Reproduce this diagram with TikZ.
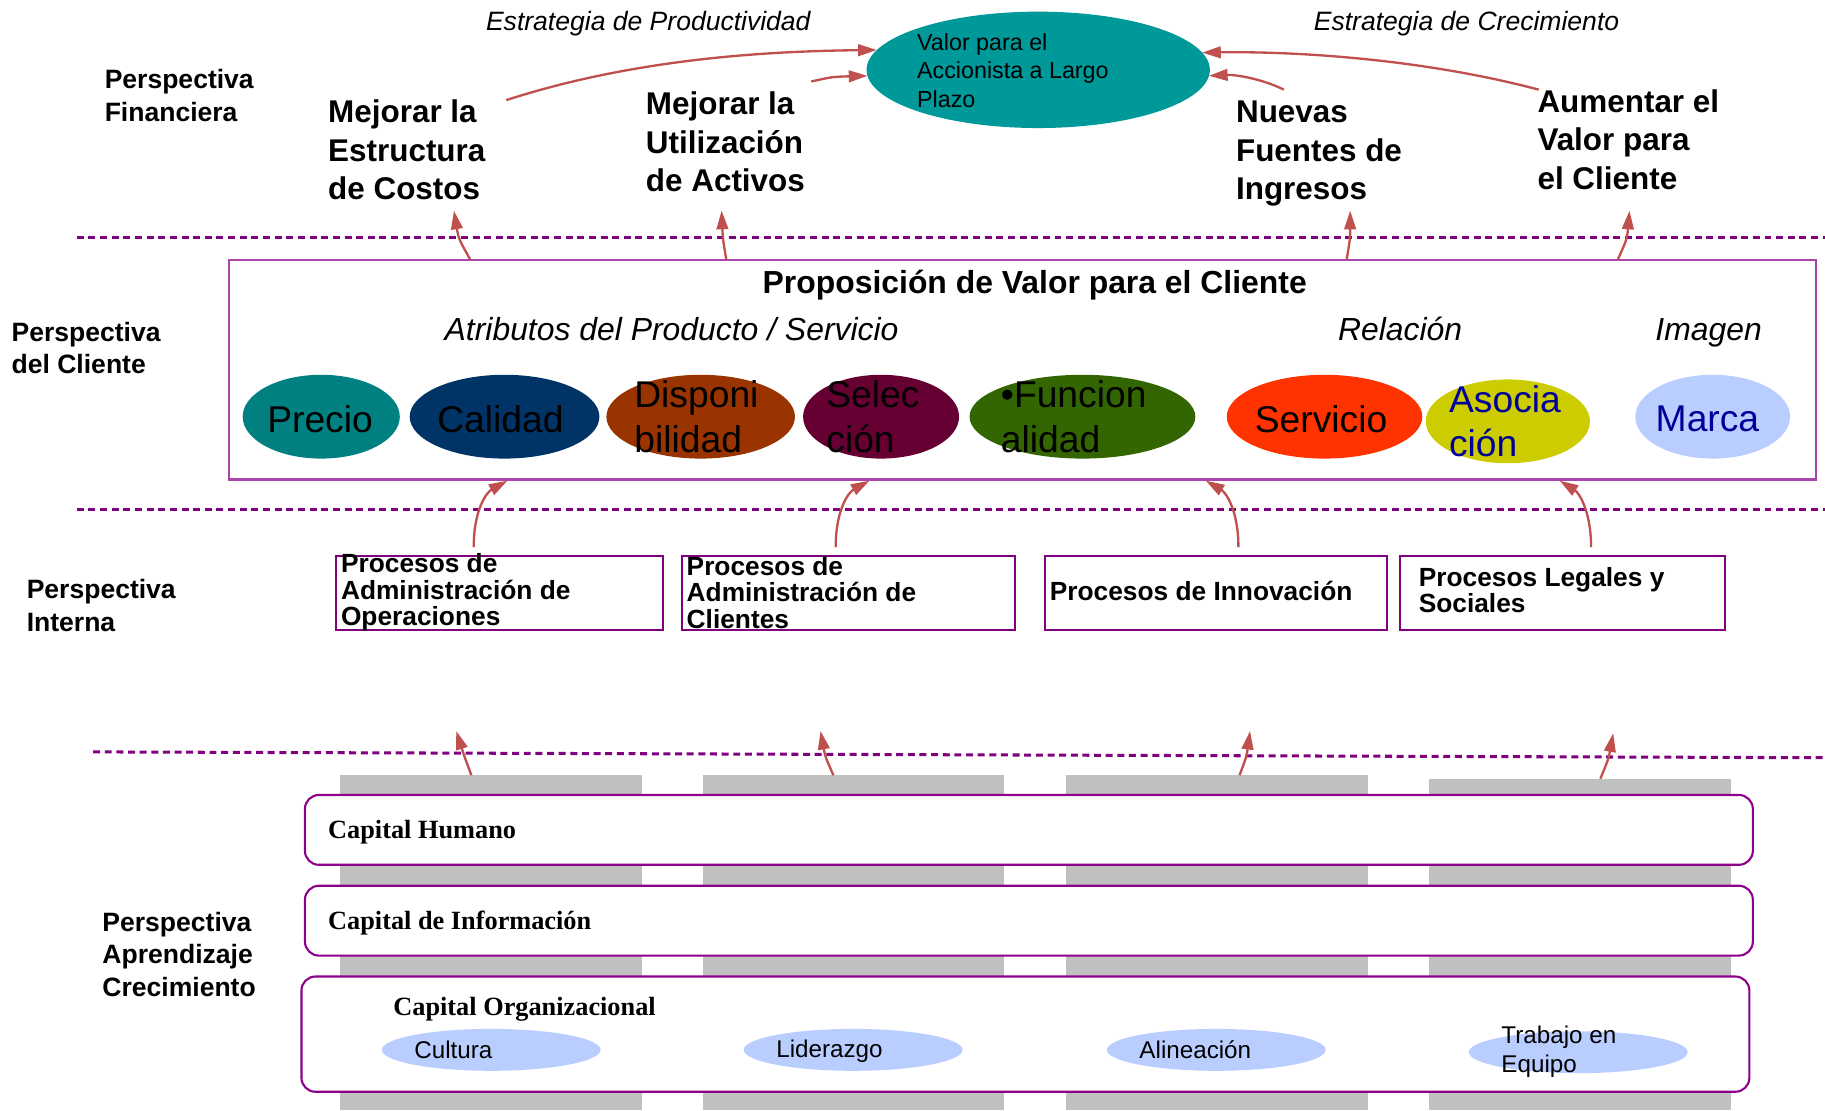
\documentclass[tikz,border=0pt]{standalone}
\usepackage{fontspec}
\setmainfont{Liberation Sans}
\newfontfamily\capfont{Liberation Serif}
\usetikzlibrary{arrows.meta,shapes.geometric}

\definecolor{arrowred}{RGB}{192,80,77}
\definecolor{sepviolet}{RGB}{128,0,128}
\definecolor{boxviolet}{RGB}{170,70,170}
\definecolor{procviolet}{RGB}{128,0,128}
\definecolor{capviolet}{RGB}{140,0,140}
\definecolor{valteal}{RGB}{0,153,153}
\definecolor{cprecio}{RGB}{0,128,128}
\definecolor{ccalidad}{RGB}{0,51,102}
\definecolor{cdispon}{RGB}{153,51,0}
\definecolor{cselec}{RGB}{102,0,51}
\definecolor{cfuncion}{RGB}{51,102,0}
\definecolor{cservicio}{RGB}{255,51,0}
\definecolor{casoc}{RGB}{204,204,0}
\definecolor{lightblue}{RGB}{185,206,255}
\definecolor{darkblue}{RGB}{0,0,153}
\definecolor{column}{RGB}{192,192,192}

\begin{document}
\begin{tikzpicture}[x=0.5pt,y=-0.5pt,
  every node/.style={inner sep=0pt, outer sep=0pt},
  persp/.style={font=\fontsize{11.4}{14}\selectfont\bfseries, anchor=west, align=left},
  goal/.style={font=\fontsize{13.5}{16.5}\selectfont\bfseries, anchor=west, align=left},
  strat/.style={font=\fontsize{11.4}{14}\selectfont\itshape},
  subhead/.style={font=\fontsize{13.7}{16}\selectfont\itshape},
  arr/.style={draw=arrowred, line width=1pt, -{Triangle[length=8pt,width=5pt]}},
  sepline/.style={draw=sepviolet, line width=1.3pt, dash pattern=on 3pt off 2pt},
  attr/.style={ellipse, minimum height=36pt},
  attrtext/.style={font=\fontsize{16}{19}\selectfont, align=left},
  procbox/.style={draw=procviolet, line width=0.9pt, anchor=north west, minimum height=31.5pt},
  proctext/.style={font=\fontsize{11.3}{11.3}\selectfont\bfseries, anchor=west, align=left},
  capbox/.style={draw=capviolet, line width=0.9pt, fill=white, rounded corners=6pt, anchor=north west},
  captext/.style={font=\capfont\fontsize{11.3}{13}\selectfont\bfseries, anchor=west},
  orgell/.style={ellipse, fill=lightblue, minimum width=94pt, minimum height=18pt},
  orgtext/.style={font=\fontsize{10.4}{12.5}\selectfont, anchor=west, align=left}
]
\useasboundingbox (0,0) rectangle (1568,954);

% ---------- separators between perspectives ----------
\coordinate (s1a) at (66,204);  \coordinate (s1b) at (1568,204);
\coordinate (s2a) at (66,438);  \coordinate (s2b) at (1568,438);
\coordinate (s3a) at (80,646);  \coordinate (s3b) at (1568,651);
\draw[sepline] (s1a) -- (s1b);
\draw[sepline] (s2a) -- (s2b);
\draw[sepline] (s3a) -- (s3b);

% ---------- perspective labels ----------
\node[persp] (pfin) at (90,82) {Perspectiva\\Financiera};
\node[persp] (pcli) at (10,299) {Perspectiva\\del Cliente};
\node[persp] (pint) at (23,520) {Perspectiva\\Interna};
\node[persp] (papr) at (88,820) {Perspectiva\\Aprendizaje\\Crecimiento};

% ---------- financial perspective ----------
\node[strat] (eprod) at (557,20) {Estrategia de Productividad};
\node[strat] (ecrec) at (1260,20) {Estrategia de Crecimiento};

\node[ellipse, fill=valteal, minimum width=147.5pt, minimum height=50pt] (valor) at (892,60) {};
\node[font=\fontsize{10}{12.25}\selectfont, anchor=west, align=left] (valortext) at (788,60.5)
  {Valor para el\\Accionista a Largo\\Plazo};

\node[goal] (g1) at (282,129) {Mejorar la\\Estructura\\de Costos};
\node[goal] (g2) at (555,122) {Mejorar la\\Utilización\\de Activos};
\node[goal] (g3) at (1062,132) {Nuevas\\Fuentes de\\Ingresos};
\node[goal] (g4) at (1321,120) {Aumentar el\\Valor para\\el Cliente};

\coordinate (g1out) at (435,86);
\coordinate (g2out) at (697,70);
\coordinate (g3out) at (1103,77);
\coordinate (g4out) at (1322,77);
\draw[arr] (g1out) .. controls (540,52) and (650,44) .. (valor.173);
\draw[arr] (g2out) .. controls (715,66) .. (valor.182);
\draw[arr] (g3out) .. controls (1085,68) and (1062,64) .. (valor.-2);
\draw[arr] (g4out) .. controls (1220,50) and (1110,44) .. (valor.6);

% ---------- customer perspective ----------
\node[draw=boxviolet, line width=0.9pt, anchor=north west,
      minimum width=681.5pt, minimum height=94.5pt] (cv) at (197,223) {};
\node[font=\fontsize{13.7}{16}\selectfont\bfseries] (cvtitle) at (889,245)
  {Proposición de Valor para el Cliente};
\node[subhead] (hattr) at (577,283) {Atributos del Producto / Servicio};
\node[subhead] (hrel) at (1203,283) {Relación};
\node[subhead] (himg) at (1468,286) {Imagen};

\node[attr, fill=cprecio, minimum width=67.5pt] (precio) at (276,358) {};
\node[attr, fill=ccalidad, minimum width=81.5pt] (calidad) at (433.5,358) {};
\node[attr, fill=cdispon, minimum width=81pt] (dispon) at (602,358) {};
\node[attr, fill=cselec, minimum width=67pt] (selec) at (757,358) {};
\node[attr, fill=cfuncion, minimum width=97pt] (funcion) at (930,358) {};
\node[attr, fill=cservicio, minimum width=84pt] (servicio) at (1138,358) {};
\node[attr, fill=casoc, minimum width=70.5pt] (asoc) at (1295.5,362) {};
\node[attr, fill=lightblue, minimum width=66.5pt] (marca) at (1471.5,358) {};

\node[attrtext] (tprecio) at (275,360) {Precio};
\node[attrtext] (tcalidad) at (430,360) {Calidad};
\node[attrtext, anchor=west] (tdispon) at (545,358) {Disponi\\bilidad};
\node[attrtext, anchor=west] (tselec) at (710,358) {Selec\\ción};
\node[attrtext, anchor=west] (tfuncion) at (860,358) {•Funcion\\alidad};
\node[attrtext] (tservicio) at (1135,360) {Servicio};
\node[attrtext, anchor=west, text=darkblue] (tasoc) at (1245,362) {Asocia\\ción};
\node[attrtext, text=darkblue] (tmarca) at (1467,360) {Marca};

\coordinate (c1) at (404,223);  \coordinate (c1t) at (390,181);
\coordinate (c2) at (624,223);  \coordinate (c2t) at (620,181);
\coordinate (c3) at (1157,223); \coordinate (c3t) at (1160,181);
\coordinate (c4) at (1390,223); \coordinate (c4t) at (1400,181);
\draw[arr] (c1) .. controls (394,205) .. (c1t);
\draw[arr] (c2) .. controls (621,205) .. (c2t);
\draw[arr] (c3) .. controls (1160,205) .. (c3t);
\draw[arr] (c4) .. controls (1398,205) .. (c4t);

% ---------- internal perspective ----------
\node[procbox, minimum width=140.5pt] (p1) at (289,478) {};
\node[procbox, minimum width=143pt] (p2) at (586,478) {};
\node[procbox, minimum width=147pt] (p3) at (898,478) {};
\node[procbox, minimum width=139.5pt] (p4) at (1203,478) {};
\node[proctext] (tp1) at (293,509) {Procesos de\\Administración de\\Operaciones};
\node[proctext] (tp2) at (590,509) {Procesos de\\Administración de\\Clientes};
\node[proctext] (tp3) at (902,508) {Procesos de Innovación};
\node[proctext] (tp4) at (1219,507) {Procesos Legales y\\Sociales};

\coordinate (i1) at (407,470);  \coordinate (i1t) at (436,413);
\coordinate (i2) at (718,470);  \coordinate (i2t) at (747,413);
\coordinate (i3) at (1064,470); \coordinate (i3t) at (1036,413);
\coordinate (i4) at (1367,470); \coordinate (i4t) at (1340,413);
\draw[arr] (i1) .. controls (407,438) and (418,423) .. (i1t);
\draw[arr] (i2) .. controls (718,438) and (729,423) .. (i2t);
\draw[arr] (i3) .. controls (1064,438) and (1053,423) .. (i3t);
\draw[arr] (i4) .. controls (1367,438) and (1356,423) .. (i4t);

% ---------- learning & growth perspective ----------
\fill[column] (292,666) rectangle (552,954);
\fill[column] (604,666) rectangle (863,954);
\fill[column] (916,666) rectangle (1175,954);
\fill[column] (1228,669) rectangle (1487,954);

\coordinate (b1) at (405,666);  \coordinate (b1t) at (392,628);
\coordinate (b2) at (716,666);  \coordinate (b2t) at (705,628);
\coordinate (b3) at (1065,666); \coordinate (b3t) at (1074,628);
\coordinate (b4) at (1375,669); \coordinate (b4t) at (1386,630);
\draw[arr] (b1) .. controls (399,650) .. (b1t);
\draw[arr] (b2) .. controls (709,650) .. (b2t);
\draw[arr] (b3) .. controls (1071,650) .. (b3t);
\draw[arr] (b4) .. controls (1382,652) .. (b4t);

\node[capbox, minimum width=622pt, minimum height=30pt] (hum) at (262,683) {};
\node[capbox, minimum width=622pt, minimum height=30pt] (info) at (262,761) {};
\node[capbox, minimum width=622pt, minimum height=49.5pt] (org) at (259,839) {};
\node[captext] (thum) at (282,715) {Capital Humano};
\node[captext] (tinfo) at (282,793) {Capital de Información};
\node[captext] (torg) at (338,867) {Capital Organizacional};

\node[orgell] (cult) at (422,902) {};
\node[orgell] (lid) at (733,902) {};
\node[orgell] (alin) at (1045,902) {};
\node[orgell] (trab) at (1356,904) {};
\node[orgtext] (tcult) at (356,902) {Cultura};
\node[orgtext] (tlid) at (667,903) {Liderazgo};
\node[orgtext] (talin) at (979,902) {Alineación};
\node[orgtext] (ttrab) at (1290,904) {Trabajo en\\Equipo};
\end{tikzpicture}
\end{document}
